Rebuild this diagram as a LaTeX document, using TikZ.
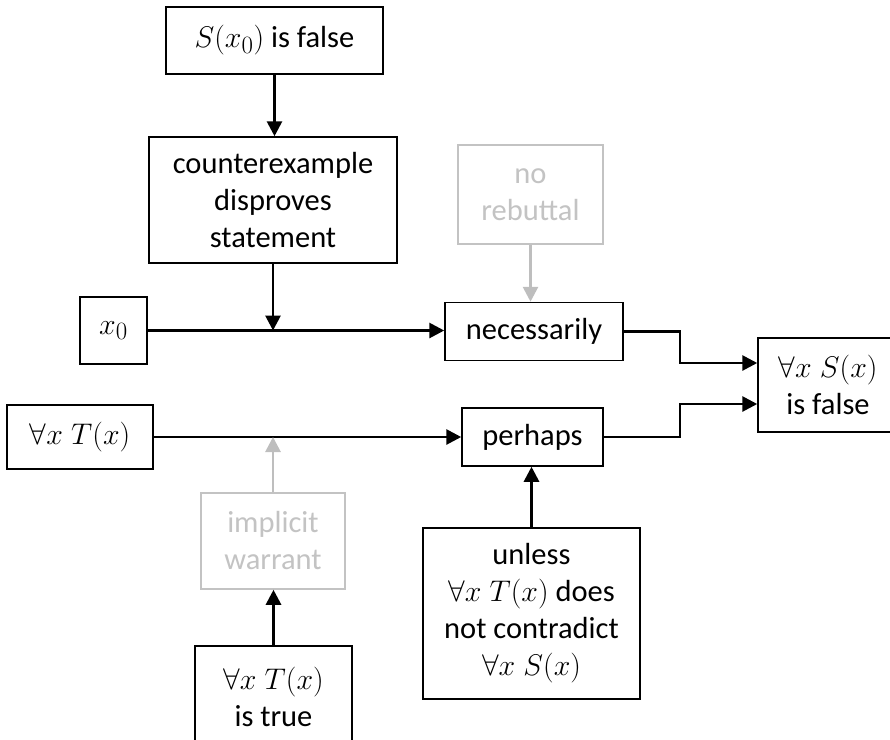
\documentclass[tikz,border=0pt]{standalone}
\usepackage{fontspec}
\usepackage{graphicx}
\setmainfont{Carlito}
\usetikzlibrary{arrows.meta,calc}
\definecolor{lightline}{RGB}{190,190,190}
\definecolor{lighttext}{RGB}{195,195,195}
\newcommand{\mymath}[1]{\scalebox{1.2}{$#1$}}
\begin{document}
\begin{tikzpicture}[x=1pt,y=-1pt,
  box/.style={draw=black,line width=1.5pt,inner sep=0pt,align=center,
    font=\fontsize{30.5}{37}\selectfont,fill=white},
  greybox/.style={box,draw=lighttext,text=lighttext},
  conn/.style={line width=2.8pt,-{Triangle[length=15pt,width=15pt]}},
  greyconn/.style={conn,draw=lightline}]
\useasboundingbox (0,0) rectangle (890,739);
\clip (0,0) rectangle (890,739);
% boxes
\node[box,minimum width=217pt,minimum height=67pt] (sf) at (274.5,40.5) {\mymath{S(x_0)} is false};
\node[box,minimum width=248pt,minimum height=126pt] (ce) at (273,200) {counterexample\\disproves\\statement};
\node[box,minimum width=67pt,minimum height=67pt] (x0) at (113.5,330.5) {\mymath{x_0}};
\node[box,minimum width=146pt,minimum height=64pt] (fT) at (80,437) {\mymath{\forall x\ T(x)}};
\node[greybox,minimum width=145pt,minimum height=99pt] (nr) at (530.5,194.5) {no\\rebuttal};
\node[box,minimum width=178pt,minimum height=58pt] (nec) at (534,331.5) {necessarily};
\node[box,minimum width=141pt,minimum height=58pt] (per) at (532.5,437) {perhaps};
\node[box,minimum width=140pt,minimum height=94pt] (res) at (828,385) {\mymath{\forall x\ S(x)}\\is false};
\node[greybox,minimum width=144pt,minimum height=96pt] (iw) at (273,541) {implicit\\warrant};
\node[box,minimum width=157pt,minimum height=102pt] (it) at (273.5,697) {\mymath{\forall x\ T(x)}\\is true};
\node[box,minimum width=217pt,minimum height=171pt] (un) at (531.5,613.5) {unless\\\mymath{\forall x\ T(x)} does\\not contradict\\\mymath{\forall x\ S(x)}};
% junction coordinates
\coordinate (j1) at (ce.south |- x0.east);
\coordinate (j2) at (iw.north |- fT.east);
% connectors
\draw[conn] (sf.south) -- (sf.south |- ce.north);
\draw[conn] (ce.south) -- (j1);
\draw[conn] (x0.east) -- (x0.east -| nec.west);
\draw[conn] (fT.east) -- (fT.east -| per.west);
\draw[greyconn] (nr.south) -- (nr.south |- nec.north);
\draw[greyconn] (iw.north) -- (j2);
\draw[conn] (it.north) -- (it.north |- iw.south);
\draw[conn] (un.north) -- (un.north |- per.south);
\draw[conn] (nec.east) -- (680,331.5) |- ($(res.west)+(0,-22)$);
\draw[conn] (per.east) -- (680,437) |- ($(res.west)+(0,19)$);
\end{tikzpicture}
\end{document}
